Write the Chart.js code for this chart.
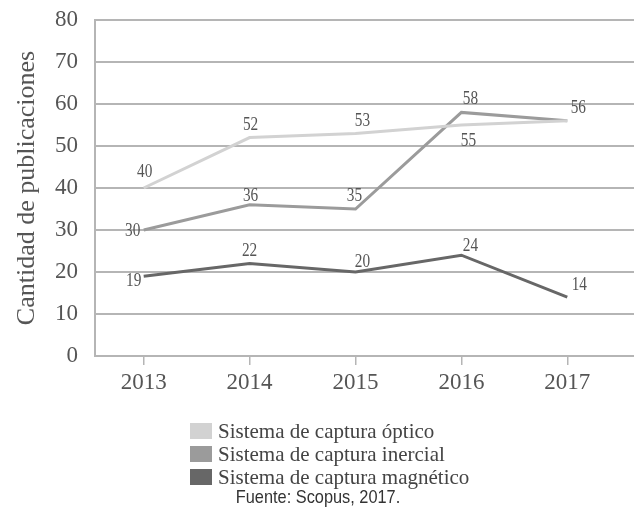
<!DOCTYPE html>
<html>
<head>
<meta charset="utf-8">
<script src="https://cdn.jsdelivr.net/npm/chart.js@4/dist/chart.umd.min.js"></script>
<style>
  html, body { margin: 0; padding: 0; background: #fff; }
  #c { display: block; }
</style>
</head>
<body>
<canvas id="c" width="634" height="516"></canvas>
<script>
// ---- data ----
const years = [2013, 2014, 2015, 2016, 2017];
const optico = [40, 52, 53, 55, 56];
const inercial = [30, 36, 35, 58, 56];
const magnetico = [19, 22, 20, 24, 14];
const seriesNames = ['Sistema de captura óptico', 'Sistema de captura inercial', 'Sistema de captura magnético'];
const yTicks = [0, 10, 20, 30, 40, 50, 60, 70, 80];
const yTitle = 'Cantidad de publicaciones';
const sourceText = 'Fuente: Scopus, 2017.';

// label offsets (style only): [dx, dy] per point, null = no label
const labelOffsets = [
  [[1, -16], [1, -12], [7, -12], [7, 16], null],
  [[-11, 1], [1, -9], [-1, -13], [9, -13], [11, -13]],
  [[-10, 5], [0, -12], [7, -10], [9, -9], [12, -12]]
];

const colors = ['#d2d2d2', '#9b9b9b', '#676767'];
const toPoints = arr => arr.map((v, i) => ({ x: years[i], y: v }));

const labelPlugin = {
  id: 'pointLabels',
  afterDatasetsDraw(chart) {
    const ctx = chart.ctx;
    chart.data.datasets.forEach((ds, di) => {
      const meta = chart.getDatasetMeta(di);
      meta.data.forEach((pt, i) => {
        const off = labelOffsets[di][i];
        if (!off) return;
        ctx.save();
        ctx.translate(pt.x + off[0], pt.y + off[1]);
        ctx.scale(0.85, 1);
        ctx.font = '18px "Liberation Serif", "Times New Roman", serif';
        ctx.fillStyle = '#555';
        ctx.textAlign = 'center';
        ctx.textBaseline = 'middle';
        ctx.fillText(String(ds.data[i].y), 0, 0);
        ctx.restore();
      });
    });
  },
  afterDraw(chart) {
    const ctx = chart.ctx;
    ctx.save();
    chart.data.datasets.forEach((ds, di) => {
      const top = 423 + di * 23;
      ctx.fillStyle = colors[di];
      ctx.fillRect(190, top, 22, 16);
      ctx.font = '21px "Liberation Serif", "Times New Roman", serif';
      ctx.fillStyle = '#444';
      ctx.textAlign = 'left';
      ctx.textBaseline = 'middle';
      ctx.fillText(ds.label, 218, top + 9);
    });
    ctx.translate(318, 498);
    ctx.scale(0.86, 1);
    ctx.font = '19px "Liberation Sans Narrow", "Arial Narrow", "Liberation Sans", sans-serif';
    ctx.fillStyle = '#333';
    ctx.textAlign = 'center';
    ctx.textBaseline = 'middle';
    ctx.fillText(sourceText, 0, 0);
    ctx.restore();
  }
};

new Chart(document.getElementById('c'), {
  type: 'line',
  data: {
    datasets: [
      { label: seriesNames[0], data: toPoints(optico), borderColor: colors[0], backgroundColor: colors[0] },
      { label: seriesNames[1], data: toPoints(inercial), borderColor: colors[1], backgroundColor: colors[1] },
      { label: seriesNames[2], data: toPoints(magnetico), borderColor: colors[2], backgroundColor: colors[2] }
    ]
  },
  options: {
    responsive: false,
    animation: false,
    layout: { padding: { top: 20, right: 0, bottom: 0, left: 0 } },
    elements: {
      line: { borderWidth: 3, tension: 0 },
      point: { radius: 0 }
    },
    plugins: { legend: { display: false }, tooltip: { enabled: false } },
    scales: {
      x: {
        type: 'linear',
        min: 2012.54,
        max: 2017.63,
        afterBuildTicks: s => { s.ticks = years.map(v => ({ value: v })); },
        afterFit: s => { s.height = 160; s.paddingRight = 0; s.paddingLeft = 0; },
        ticks: {
          includeBounds: false,
          callback: v => String(v),
          font: { family: '"Liberation Serif", "Times New Roman", serif', size: 23 },
          color: '#555',
          padding: 4,
          maxRotation: 0
        },
        grid: { drawOnChartArea: false, drawTicks: true, tickLength: 9, color: '#b5b5b5', lineWidth: 1.5 },
        border: { display: true, color: '#b5b5b5', width: 2 }
      },
      y: {
        min: 0,
        max: 80,
        afterBuildTicks: s => { s.ticks = yTicks.map(v => ({ value: v })); },
        afterFit: s => { s.width = 95; s.paddingTop = 0; s.paddingBottom = 0; },
        ticks: {
          font: { family: '"Liberation Serif", "Times New Roman", serif', size: 23 },
          color: '#555',
          padding: 17
        },
        grid: { drawTicks: false, color: '#b5b5b5', lineWidth: 2 },
        border: { display: true, color: '#b5b5b5', width: 2 },
        title: {
          display: true,
          text: yTitle,
          font: { family: '"Liberation Serif", "Times New Roman", serif', size: 26 },
          color: '#555',
          padding: { top: 12, bottom: 0 }
        }
      }
    }
  },
  plugins: [labelPlugin]
});
</script>
</body>
</html>
